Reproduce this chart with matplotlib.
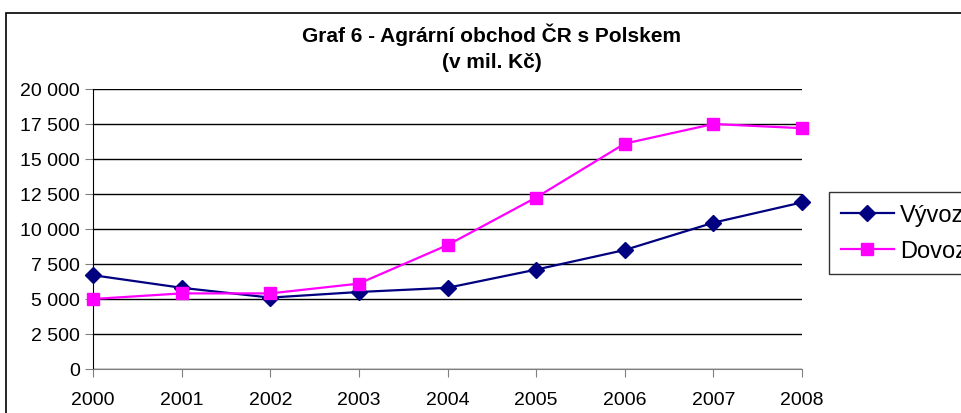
import matplotlib.pyplot as plt
from matplotlib.patches import Rectangle
from matplotlib.ticker import FuncFormatter

# Agrární obchod ČR s Polskem (v mil. Kč)
roky = [2000, 2001, 2002, 2003, 2004, 2005, 2006, 2007, 2008]
vyvoz = [6700, 5800, 5100, 5500, 5800, 7100, 8500, 10450, 11900]
dovoz = [5000, 5400, 5400, 6100, 8850, 12250, 16100, 17500, 17200]
y_ticks = [0, 2500, 5000, 7500, 10000, 12500, 15000, 17500, 20000]

plt.rcParams['font.family'] = ['Liberation Sans', 'DejaVu Sans']

fig = plt.figure(figsize=(9.62, 4.14), dpi=100)
# okraj grafu (oříznutý)
fig.patches.append(Rectangle((6 / 962, -0.1), 1.2, 1 - 14 / 414 + 0.1,
                             transform=fig.transFigure, fill=False,
                             edgecolor='black', linewidth=1.2))

ax = fig.add_axes([93 / 962, 1 - 370 / 414, (802 - 93) / 962, (370 - 90) / 414])
ax.plot(roky, vyvoz, color='#000080', marker='D', markersize=8, linewidth=1.6,
        label='Vývoz', clip_on=False, zorder=3)
ax.plot(roky, dovoz, color='#FF00FF', marker='s', markersize=8, linewidth=1.6,
        label='Dovoz', clip_on=False, zorder=3)

ax.set_xlim(2000, 2008)
ax.set_ylim(0, 20000)
ax.set_xticks(roky)
ax.set_yticks(y_ticks)
ax.yaxis.set_major_formatter(FuncFormatter(lambda v, p: f'{int(v):,}'.replace(',', ' ')))
ax.tick_params(labelsize=14, length=6, color='#808080', direction='out')
ax.tick_params(axis='x', pad=10)
ax.grid(axis='y', color='black', linewidth=1)
ax.set_axisbelow(True)
for s in ['top', 'right']:
    ax.spines[s].set_visible(False)
ax.spines['left'].set_color('black')
ax.spines['bottom'].set_color('#808080')

fig.text(492 / 962, 1 - 35 / 414, 'Graf 6 - Agrární obchod ČR s Polskem',
         ha='center', va='center', fontsize=15, fontweight='bold')
fig.text(492 / 962, 1 - 62 / 414, '(v mil. Kč)',
         ha='center', va='center', fontsize=15, fontweight='bold')

leg = fig.legend(loc='upper left', bbox_to_anchor=(829 / 962, 1 - 193 / 414),
                 fontsize=17, frameon=True, fancybox=False, handlelength=2.25,
                 borderpad=0.5, labelspacing=0.6, handletextpad=0.25,
                 borderaxespad=0)
leg.get_frame().set_edgecolor('black')
leg.get_frame().set_linewidth(1)

fig.savefig('out.png', dpi=100)
